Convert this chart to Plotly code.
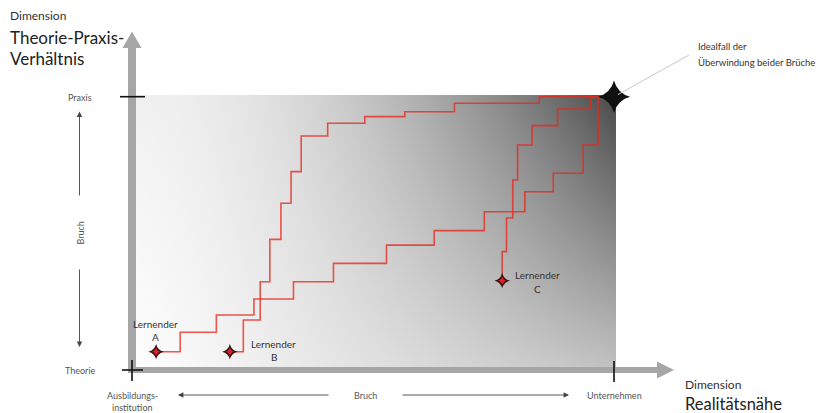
import numpy as np
import plotly.graph_objects as go

# ---- data (Realitätsnähe 0..100, Theorie-Praxis 0..100) ----
a_x = [5, 10, 17.5, 25.3, 33.5, 41.8, 52.8, 62.7, 73.1, 81.5, 87.4, 93.6, 96.7, 100]
a_y = [6.7, 13.8, 20.1, 26.0, 32.3, 39.0, 45.7, 51.0, 57.9, 65.2, 72.0, 82.3, 100, 100]
b_x = [20.3, 23.1, 26.6, 28.6, 30.9, 33.0, 35.1, 40.6, 48.3, 56.6, 66.9, 84.5, 100]
b_y = [6.7, 18.3, 32.3, 47.8, 61.0, 72.6, 85.6, 90.3, 92.7, 94.5, 97.6, 100, 100]
c_x = [76.8, 77.7, 79.0, 80.0, 83.0, 88.3, 95.2, 100]
c_y = [32.7, 43.3, 55.6, 69.5, 82.3, 89.4, 95.5, 100]
ideal_x = [100]
ideal_y = [100]

W, H = 827, 413
X0, X100 = 132.0, 614.0
Y0, Y100 = 370.0, 96.7
sx = (X100 - X0) / 100
sy = (Y0 - Y100) / 100

def px(x):
    return x / W

def py(y):
    return 1 - y / H

FONT = "Lato"
RED = "rgba(232,40,30,0.78)"

fig = go.Figure()

# gradient background (heatmap)
gx = np.linspace(0, 100, 121)
gy = np.linspace(1.5, 100, 81)
U, V = np.meshgrid(gx / 100, gy / 100)
dark = (1 - V) * 60 * U + V * (15 * (1 - U) + 180 * U ** 1.7)
z = 255 - dark
fig.add_trace(go.Heatmap(x=gx, y=gy, z=z, zmin=0, zmax=255, zsmooth="best",
                         colorscale=[[0, "rgb(0,0,0)"], [1, "rgb(255,255,255)"]],
                         showscale=False, hoverinfo="skip"))

for xs, ys, shape in [(a_x, a_y, "hv"), (b_x, b_y, "hv"), (c_x, c_y, "vh")]:
    fig.add_trace(go.Scatter(x=xs, y=ys, mode="lines", line=dict(color=RED, width=1.6, shape=shape),
                             hoverinfo="skip", showlegend=False))

starts_x = [a_x[0], b_x[0], c_x[0]]
starts_y = [a_y[0], b_y[0], c_y[0]]
fig.add_trace(go.Scatter(x=starts_x, y=starts_y, mode="markers",
                         marker=dict(symbol="star-diamond", size=11, color="#3a1212",
                                     line=dict(width=0)),
                         hoverinfo="skip", showlegend=False))
fig.add_trace(go.Scatter(x=starts_x, y=starts_y, mode="markers",
                         marker=dict(symbol="star-diamond", size=6, color="#e0202a",
                                     line=dict(width=0)),
                         hoverinfo="skip", showlegend=False))
fig.add_trace(go.Scatter(x=ideal_x, y=ideal_y, mode="markers",
                         marker=dict(symbol="star-diamond", size=23, color="#111111",
                                     line=dict(color="#111111", width=0)),
                         hoverinfo="skip", showlegend=False))

shapes = []
GRAY = "#a6a6a6"
# y axis arrow
shapes.append(dict(type="line", xref="paper", yref="paper", x0=px(132), x1=px(132), y0=py(373), y1=py(47),
                   line=dict(color=GRAY, width=8)))
shapes.append(dict(type="path", xref="paper", yref="paper",
                   path=f"M {px(122.5)} {py(48)} L {px(141.5)} {py(48)} L {px(132)} {py(31.5)} Z",
                   fillcolor=GRAY, line=dict(width=0)))
# x axis arrow
shapes.append(dict(type="line", xref="paper", yref="paper", x0=px(128), x1=px(658), y0=py(370), y1=py(370),
                   line=dict(color=GRAY, width=6)))
shapes.append(dict(type="path", xref="paper", yref="paper",
                   path=f"M {px(657)} {py(361.5)} L {px(657)} {py(378.5)} L {px(674)} {py(370)} Z",
                   fillcolor=GRAY, line=dict(width=0)))
# black ticks
for (x0, y0, x1, y1) in [(120, 96.7, 145, 96.7), (122, 370, 143, 370), (132, 360, 132, 381),
                         (614, 361, 614, 382)]:
    shapes.append(dict(type="line", xref="paper", yref="paper", x0=px(x0), x1=px(x1), y0=py(y0), y1=py(y1),
                       line=dict(color="#111111", width=1.6)))
# leader line
shapes.append(dict(type="line", xref="paper", yref="paper", x0=px(618), x1=px(689), y0=py(94.5), y1=py(55),
                   line=dict(color="#c8c8c8", width=1)))

ann = []

def text(x, y, s, size, color="#555555", xanchor="center", textangle=0):
    ann.append(dict(xref="paper", yref="paper", x=px(x), y=py(y), text=s, showarrow=False,
                    xanchor=xanchor, yanchor="middle", textangle=textangle,
                    font=dict(family=FONT, size=size, color=color)))

text(8, 16, "Dimension", 12, "#333333", "left")
text(8, 37, "Theorie-Praxis-", 17, "#222222", "left")
text(8, 59, "Verhältnis", 17, "#222222", "left")
text(80, 97, "Praxis", 9, "#555555")
text(80, 370, "Theorie", 9, "#555555")
text(79.5, 233, "Bruch", 9, "#555555", textangle=-90)
text(132.5, 395, "Ausbildungs-", 9, "#555555")
text(132.5, 407, "institution", 9, "#555555")
text(365.5, 395, "Bruch", 9, "#555555")
text(614, 395, "Unternehmen", 9, "#555555")
text(683, 384.5, "Dimension", 12, "#333333", "left")
text(683, 403.5, "Realitätsnähe", 16.5, "#222222", "left")
text(696, 47, "Idealfall der", 9.5, "#333333", "left")
text(696, 62, "Überwindung beider Brüche", 9.5, "#333333", "left")
text(155, 323.5, "Lernender", 10, "#333333")
text(155, 337, "A", 10, "#333333")
text(273.5, 343.5, "Lernender", 10, "#333333")
text(273.5, 357, "B", 10, "#333333")
text(537, 274.5, "Lernender", 10, "#333333")
text(537, 288.5, "C", 10, "#333333")

def arrow(hx, hy, tx, ty):
    ann.append(dict(xref="paper", yref="paper", x=px(hx), y=py(hy), ax=tx - hx, ay=ty - hy,
                    axref="pixel", ayref="pixel", text="", showarrow=True,
                    arrowhead=2, arrowsize=1.2, arrowwidth=0.9, arrowcolor="#444444"))

arrow(79.5, 111.5, 79.5, 197)
arrow(79.5, 347, 79.5, 268)
arrow(178, 395, 330, 395)
arrow(569, 395, 401, 395)

fig.update_layout(
    width=W, height=H, margin=dict(l=0, r=0, t=0, b=0),
    paper_bgcolor="white", plot_bgcolor="white",
    xaxis=dict(range=[-X0 / sx, (W - X0) / sx], visible=False, fixedrange=True),
    yaxis=dict(range=[(Y0 - H) / sy, Y0 / sy], visible=False, fixedrange=True),
    shapes=shapes, annotations=ann, showlegend=False,
)

fig.write_html("out.html", config={"displayModeBar": False},
               post_script="document.body.style.margin='0';document.body.style.overflow='hidden';")
